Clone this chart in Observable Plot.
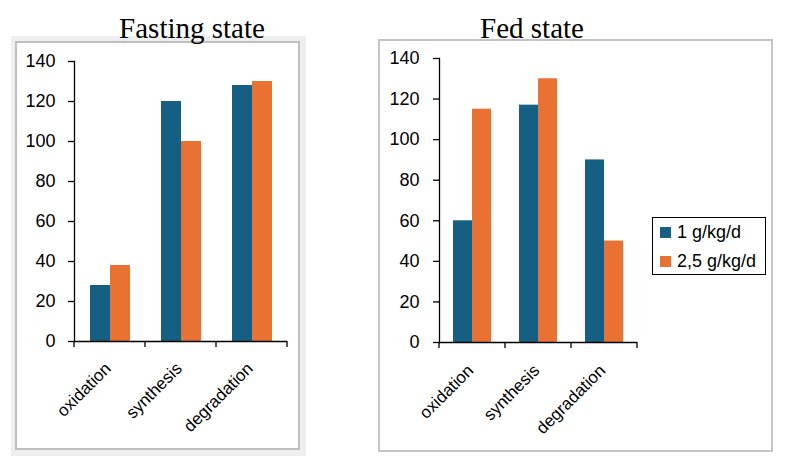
<!DOCTYPE html>
<html><head><meta charset="utf-8">
<script src="https://cdn.jsdelivr.net/npm/d3@7"></script>
<script src="https://cdn.jsdelivr.net/npm/@observablehq/plot@0.6"></script>
<style>
html,body{margin:0;padding:0;background:#fff;}
body{width:789px;height:476px;position:relative;overflow:hidden;font-family:"Liberation Sans",Arial,sans-serif;}
.abs{position:absolute;box-sizing:border-box;}
#fastOuter{left:11px;top:36px;width:295px;height:420px;background:#eeeeee;}
#fastInner{left:15px;top:41px;width:285px;height:409px;border:2px solid #bfbfbf;background:#fff;}
#fedFrame{left:378px;top:39px;width:395px;height:413px;border:2px solid #c4c4c4;background:#fff;}
.title{font-family:"Liberation Serif","Times New Roman",serif;font-size:29px;line-height:29px;text-align:center;width:240px;white-space:nowrap;z-index:5;color:#000;}
.chart{z-index:3;}
.chart svg text{font-size:18px !important;}
.chart svg text.cat{font-size:17px !important;}
#legend{left:652px;top:217px;width:114px;height:58px;border:1px solid #000;background:#fff;z-index:4;}
.item{position:absolute;left:7px;font-size:18px;line-height:18px;white-space:nowrap;color:#000;}
.sw{display:inline-block;width:11px;height:11px;margin-right:6px;vertical-align:0px;}
#dbg{left:320px;top:462px;font-size:8px;line-height:9px;color:#fff;white-space:nowrap;}
</style>
</head><body>
<div class="abs" id="fastOuter"></div>
<div class="abs" id="fastInner"></div>
<div class="abs" id="fedFrame"></div>
<div class="abs title" id="t1" style="left:72px;top:14px;">Fasting state</div>
<div class="abs title" id="t2" style="left:412px;top:14px;">Fed state</div>
<div class="abs chart" id="c1" style="left:15px;top:41px;"></div>
<div class="abs chart" id="c2" style="left:379px;top:40px;"></div>
<div class="abs" id="legend"></div>
<div class="abs" id="dbg"></div>
<script>
const categories = ["oxidation", "synthesis", "degradation"];
const seriesNames = ["1 g/kg/d", "2,5 g/kg/d"];
const fastingLow = [28, 120, 128];
const fastingHigh = [38, 100, 130];
const fedLow = [60, 117, 90];
const fedHigh = [115, 130, 50];
const yTicks = [0, 20, 40, 60, 80, 100, 120, 140];
const colors = ["#156082", "#E97132"];

function rowsOf(low, high) {
  const rows = [];
  categories.forEach((c, i) => {
    rows.push({category: c, series: seriesNames[0], value: low[i]});
    rows.push({category: c, series: seriesNames[1], value: high[i]});
  });
  return rows;
}

function makeChart(low, high, o) {
  const rows = rowsOf(low, high);
  const plot = Plot.plot({
    width: o.width, height: o.height,
    marginLeft: o.ml, marginRight: o.mr, marginTop: o.mt, marginBottom: o.mb,
    style: {fontFamily: "'Liberation Sans', Arial, sans-serif", fontSize: "18px", color: "#000", background: "transparent", overflow: "visible"},
    fx: {domain: categories, paddingInner: 0, paddingOuter: 0, axis: null},
    x: {domain: seriesNames, paddingInner: 0, paddingOuter: o.po, axis: null},
    y: {domain: [0, 140]},
    color: {domain: seriesNames, range: colors},
    marks: [
      Plot.barY(rows, {fx: "category", x: "series", y: "value", fill: "series"}),
      Plot.axisY({ticks: yTicks, tickSize: 6, tickPadding: o.tp, label: null, fontSize: 18, stroke: "#000", strokeWidth: 1.3}),
      Plot.frame({anchor: "left", facetAnchor: "left", stroke: "#000", strokeWidth: 1.3}),
      Plot.ruleY([0], {stroke: "#000", strokeWidth: 1.3}),
      Plot.text(categories, {fx: d => d, text: d => d, frameAnchor: "bottom", rotate: -45, textAnchor: "end", fontSize: 17, dy: o.labelDy, dx: o.labelDx, fill: "#000"})
    ]
  });
  d3.select(plot).selectAll("text").each(function() {
    const isCat = categories.includes(this.textContent);
    if (isCat) this.classList.add("cat");
    this.style.setProperty("font-size", isCat ? "17px" : "18px", "important");
  });
  // boundary ticks on the category axis, from the library's scales
  const fx = plot.scale("fx"), y = plot.scale("y");
  const y0 = y.apply(0);
  const edges = categories.map(c => fx.apply(c));
  edges.push(fx.apply(categories[categories.length - 1]) + fx.bandwidth);
  d3.select(plot).append("g").attr("stroke", "#000").attr("stroke-width", 1.3)
    .selectAll("line").data(edges).join("line")
    .attr("x1", d => d).attr("x2", d => d).attr("y1", y0).attr("y2", y0 + 6);
  return plot;
}

const p1 = makeChart(fastingLow, fastingHigh,
  {width: 285, height: 409, ml: 59, mr: 13, mt: 20, mb: 109, po: 0.775, tp: 13, labelDy: 28, labelDx: 2});
document.getElementById("c1").appendChild(p1);
const p2 = makeChart(fedLow, fedHigh,
  {width: 270, height: 410, ml: 59, mr: 11, mt: 18, mb: 108, po: 0.728, tp: 14, labelDy: 29, labelDx: 2});
document.getElementById("c2").appendChild(p2);

const legend = d3.select("#legend");
seriesNames.forEach((s, i) => {
  const it = legend.append("div").attr("class", "item").style("top", (5 + i * 29) + "px");
  it.append("span").attr("class", "sw").style("background", colors[i]);
  it.append("span").text(s);
});

// resolve text styles once the charts are in the document
function resolve(p) {
  let n = 0;
  p.querySelectorAll("text").forEach(t => {
    t.getBoundingClientRect();
    if (getComputedStyle(t).fontSize) n++;
  });
  return n;
}
document.getElementById("dbg").textContent = "." + resolve(p1) + resolve(p2);
</script>
</body></html>
